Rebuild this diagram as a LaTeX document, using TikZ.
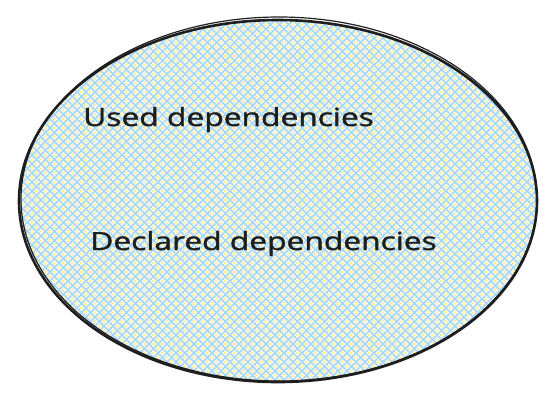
\documentclass[tikz,border=0pt]{standalone}
\usepackage{fontspec}
\setmainfont{Open Sans}
\newfontfamily\sketchfont{Open Sans}[FakeBold=1.3]
\usepackage{tikz}
\usetikzlibrary{shapes.geometric,positioning}
\definecolor{ink}{HTML}{1E1E1E}
\definecolor{hatchblue}{HTML}{A5D8FF}
\definecolor{hatchyellow}{HTML}{FFEC99}
\tikzset{
    %Define style for the set
    setnode/.style={
           ellipse,
           draw=ink, line width=2.6pt,
           minimum width=518pt,
           minimum height=362pt,
           inner sep=0pt},
    %Define style for labels
    lbl/.style={
           font=\sketchfont\fontsize{25}{28}\selectfont,
           text=ink, xscale=1.27,
           inner sep=0pt},
    %Define hatch lines
    hatch/.style={line width=1.5pt}
}
\begin{document}
\begin{tikzpicture}[x=1pt,y=-1pt]
\useasboundingbox (0,0) rectangle (553,400);
 %hatch fill
\begin{scope}
\clip (278,201) ellipse [x radius=259, y radius=181];
\foreach \i in {-420,-411,...,560}{
  \draw[hatch,hatchyellow,line width=1pt] (\i+4,0) -- ++(400,400);
  \draw[hatch,hatchyellow,line width=1pt] (\i+4,400) -- ++(400,-400);
}
\foreach \i in {-420,-411,...,560}{
  \draw[hatch,hatchblue] (\i,0) -- ++(400,400);
  \draw[hatch,hatchblue] (\i,400) -- ++(400,-400);
}
\end{scope}
 %nodes
\node[setnode](set) at (278,201){};
\draw[ink, line width=1.2pt] (279,199) ellipse [x radius=258, y radius=182];
\node[lbl, anchor=base west](used) at (83,126){Used dependencies};
\node[lbl, anchor=base west](declared) at (90,250){Declared dependencies};
\end{tikzpicture}
\end{document}
